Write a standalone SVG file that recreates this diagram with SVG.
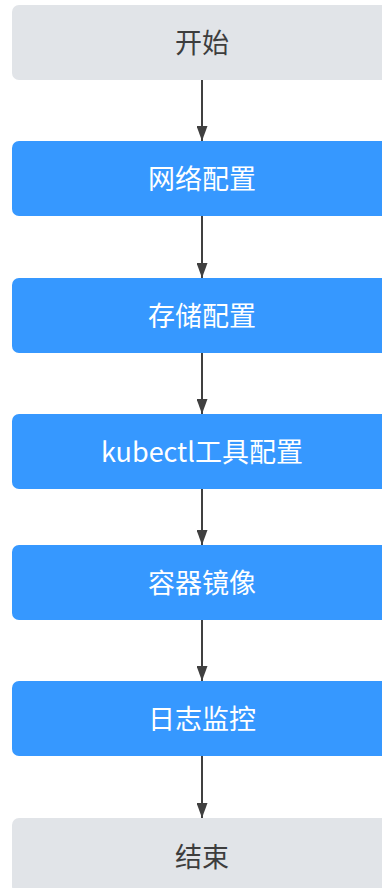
<svg xmlns="http://www.w3.org/2000/svg" width="382" height="888" viewBox="0 0 382 888">
<defs>
<marker id="arr" markerWidth="15" markerHeight="11" refX="15" refY="5.5" orient="auto" markerUnits="userSpaceOnUse" viewBox="0 0 15 11">
<path d="M0,0 L15,5.5 L0,11 Z" fill="#404040"/>
</marker>
<style>
.g{fill:#E1E4E8;}
.b{fill:#3698FF;}
.t{font-family:"Noto Sans CJK SC","Noto Sans",sans-serif;font-size:27px;text-anchor:middle;dominant-baseline:central;}
.tg{fill:#3d3d3d;}
.tw{fill:#ffffff;}
.c{stroke:#404040;stroke-width:2;fill:none;}
</style>
</defs>
<rect width="382" height="888" fill="#ffffff"/>
<g id="connectors">
<line class="c" x1="202" y1="80" x2="202" y2="141" marker-end="url(#arr)"/>
<line class="c" x1="202" y1="216" x2="202" y2="278" marker-end="url(#arr)"/>
<line class="c" x1="202" y1="353" x2="202" y2="414" marker-end="url(#arr)"/>
<line class="c" x1="202" y1="489" x2="202" y2="545" marker-end="url(#arr)"/>
<line class="c" x1="202" y1="620" x2="202" y2="681" marker-end="url(#arr)"/>
<line class="c" x1="202" y1="756" x2="202" y2="818" marker-end="url(#arr)"/>
</g>
<g id="start"><rect class="g" x="12" y="5" width="380" height="75" rx="7"/><text class="t tg" x="202" y="41">开始</text></g>
<g id="network"><rect class="b" x="12" y="141" width="380" height="75" rx="7"/><text class="t tw" x="202" y="177">网络配置</text></g>
<g id="storage"><rect class="b" x="12" y="278" width="380" height="75" rx="7"/><text class="t tw" x="202" y="314">存储配置</text></g>
<g id="kubectl"><rect class="b" x="12" y="414" width="380" height="75" rx="7"/><text class="t tw" x="202" y="450">kubectl工具配置</text></g>
<g id="image"><rect class="b" x="12" y="545" width="380" height="75" rx="7"/><text class="t tw" x="202" y="581">容器镜像</text></g>
<g id="log"><rect class="b" x="12" y="681" width="380" height="75" rx="7"/><text class="t tw" x="202" y="717">日志监控</text></g>
<g id="end"><rect class="g" x="12" y="818" width="380" height="75" rx="7"/><text class="t tg" x="202" y="855">结束</text></g>
</svg>
